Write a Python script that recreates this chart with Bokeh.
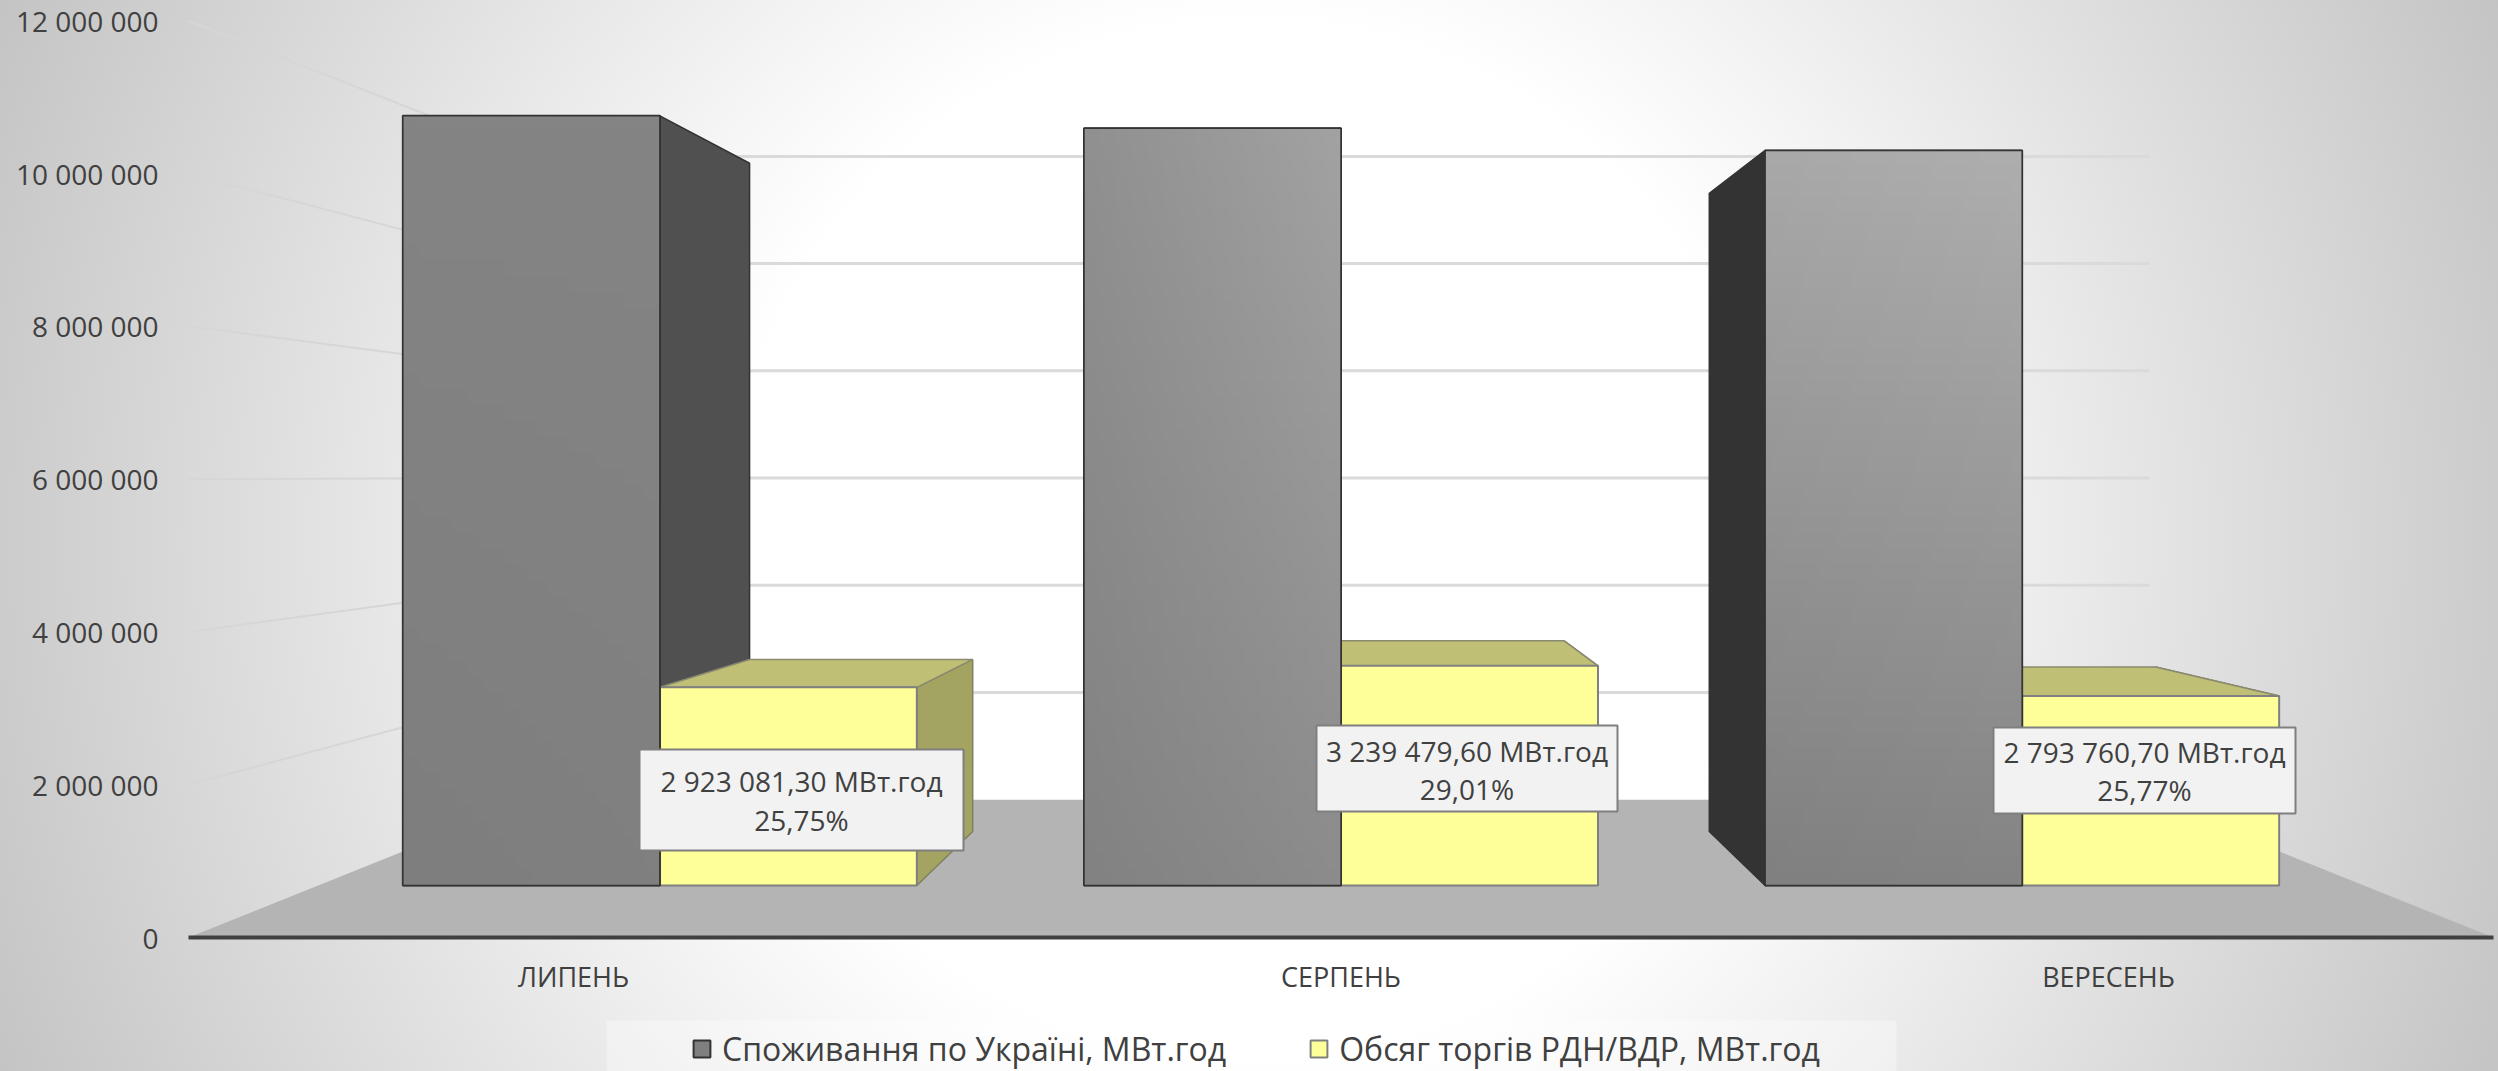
from bokeh.plotting import figure
from bokeh.layouts import column
from bokeh.models import (Range1d, FixedTicker, LinearAxis, Legend, LegendItem)
from bokeh.core.properties import value
from bokeh.embed import file_html
from bokeh.resources import INLINE
import numpy as np

# ---------- data ----------
categories = ["ЛИПЕНЬ", "СЕРПЕНЬ", "ВЕРЕСЕНЬ"]
consumption = [11351000, 11167000, 10841000]
traded = [2923081.30, 3239479.60, 2793760.70]
shares = ["25,75%", "29,01%", "25,77%"]
y_ticks = [0, 2000000, 4000000, 6000000, 8000000, 10000000, 12000000]
y_tick_labels = ["0", "2 000 000", "4 000 000", "6 000 000", "8 000 000", "10 000 000", "12 000 000"]
series_names = ["Споживання по Україні, МВт.год", "Обсяг торгів РДН/ВДР, МВт.год"]

# ---------- layout constants (pixels of the page) ----------
W, H = 2498, 1071
CHART_H = 1010
LEFT, RIGHT, BOTTOM = 188, 2493, 937
PX_PER_CAT = 767.5
PX_PER_VAL = 76.4 / 1e6
X0 = -(573 - LEFT) / PX_PER_CAT
X1 = X0 + (RIGHT - LEFT) / PX_PER_CAT
Y1 = BOTTOM / PX_PER_VAL

# perspective: depth factors, vanishing point in data units
VX, VY = 1.0, 6.047e6
S_BAR_FRONT, S_BAR_BACK, S_WALL = 0.8875, 0.7706, 0.7016
BAR_W = 0.3773


def proj(x, v, s):
    return VX + s * (x - VX), VY + s * (v - VY)


def sx(px):
    return X0 + (px - LEFT) / PX_PER_CAT


def sy(px):
    return (BOTTOM - px) / PX_PER_VAL


def face(corners):
    xs, ys = zip(*[proj(*c) for c in corners])
    return list(xs), list(ys)


p = figure(width=W, height=CHART_H, output_backend="svg", toolbar_location=None,
           x_range=Range1d(X0, X1), y_range=Range1d(0, Y1),
           min_border_left=LEFT, min_border_right=W - RIGHT, min_border_top=0,
           min_border_bottom=CHART_H - BOTTOM, x_axis_type=None, y_axis_type=None)
p.background_fill_alpha = 0
p.border_fill_alpha = 0
p.outline_line_color = None
p.grid.visible = False

FONT = "Open Sans"
TEXT = "#404040"

# axes
yax = LinearAxis(ticker=FixedTicker(ticks=y_ticks),
                 major_label_overrides=dict(zip(y_ticks, y_tick_labels)),
                 axis_line_color=None, major_tick_line_color=None, minor_tick_line_color=None,
                 major_label_text_font=FONT, major_label_text_font_size="28px",
                 major_label_text_color=TEXT, major_label_standoff=24)
p.add_layout(yax, "left")
xax = LinearAxis(ticker=FixedTicker(ticks=[0, 1, 2]),
                 major_label_overrides=dict(zip([0, 1, 2], categories)),
                 axis_line_color="#404040", axis_line_width=4,
                 major_tick_line_color=None, minor_tick_line_color=None,
                 major_label_text_font=FONT, major_label_text_font_size="27px",
                 major_label_text_color=TEXT, major_label_standoff=14)
p.add_layout(xax, "below")

# floor
fx, fy = face([(X0, 0, 1), (X1, 0, 1), (X1, 0, S_WALL), (X0, 0, S_WALL)])
p.patch(fx, fy, fill_color="#b4b4b4", line_color=None)

# walls' gridlines
wall_x0, wall_y0, wall_x1, wall_y1 = [], [], [], []
for t in y_ticks[1:]:
    a, b = proj(X0, t, 1)
    c, d = proj(X0, t, S_WALL)
    wall_x0.append(a); wall_y0.append(b); wall_x1.append(c); wall_y1.append(d)
p.segment(wall_x0, wall_y0, wall_x1, wall_y1, line_color="#d6d6d6", line_width=2)
back_x0, back_y0, back_x1, back_y1 = [], [], [], []
for t in y_ticks[1:]:
    a, b = proj(X0, t, S_WALL)
    c, d = proj(X1, t, S_WALL)
    back_x0.append(a); back_y0.append(b); back_x1.append(c); back_y1.append(d)
p.segment(back_x0, back_y0, back_x1, back_y1, line_color="#dadada", line_width=3)

# gray side faces
side_cols = ["#505050", None, "#333333"]
gsx, gsy, gsc = [], [], []
for i, v in enumerate(consumption):
    edge = i if i == 0 else i - BAR_W
    if i == 1:
        continue
    a, b = face([(edge, 0, S_BAR_FRONT), (edge, v, S_BAR_FRONT), (edge, v, S_BAR_BACK), (edge, 0, S_BAR_BACK)])
    gsx.append(a); gsy.append(b); gsc.append(side_cols[i])
p.patches(gsx, gsy, fill_color=gsc, line_color="#333333", line_width=1.5)

# yellow tops & side
tx, ty, sxs, sys_ = [], [], [], []
for i, v in enumerate(traded):
    l, r = i, i + BAR_W
    a, b = face([(l, v, S_BAR_FRONT), (r, v, S_BAR_FRONT), (r, v, S_BAR_BACK), (l, v, S_BAR_BACK)])
    tx.append(a); ty.append(b)
    a, b = face([(r, 0, S_BAR_FRONT), (r, v, S_BAR_FRONT), (r, v, S_BAR_BACK), (r, 0, S_BAR_BACK)])
    sxs.append(a); sys_.append(b)
p.patches(sxs, sys_, fill_color="#a3a362", line_color="#808060", line_width=1.5)
p.patches(tx, ty, fill_color="#bfc076", line_color="#8a8a70", line_width=1.5)


def front(i, v, d0, d1):
    x0, y0 = proj(i + d0, 0, S_BAR_FRONT)
    x1, y1 = proj(i + d1, v, S_BAR_FRONT)
    return x0, y0, x1, y1


# yellow fronts
yf = [front(i, v, 0, BAR_W) for i, v in enumerate(traded)]
p.quad(left=[f[0] for f in yf], bottom=[f[1] for f in yf], right=[f[2] for f in yf], top=[f[3] for f in yf],
       fill_color="#ffff99", line_color="#808080", line_width=2)

# gray fronts: flat face, then shading, then outline
gf = [front(i, v, -BAR_W, 0) for i, v in enumerate(consumption)]
p.quad(left=[f[0] for f in gf], bottom=[f[1] for f in gf], right=[f[2] for f in gf], top=[f[3] for f in gf],
       fill_color="#808080", line_color="#333333", line_width=2)

# shading: (bottom-left, bottom-right, top-left, top-right) grey levels
shades = [(0x7e, 0x80, 0x84, 0x84), (0x82, 0x8c, 0x90, 0xa2), (0x80, 0x84, 0xa8, 0xae)]
for f, (bl, br, tl, tr) in zip(gf, shades):
    n = 48
    u, w = np.meshgrid(np.linspace(0, 1, n), np.linspace(0, 1, n))
    g = (bl * (1 - u) * (1 - w) + br * u * (1 - w) + tl * (1 - u) * w + tr * u * w).astype(np.uint8)
    img = np.zeros((n, n), dtype=np.uint32)
    view = img.view(dtype=np.uint8).reshape((n, n, 4))
    view[:, :, 0] = g; view[:, :, 1] = g; view[:, :, 2] = g; view[:, :, 3] = 255
    p.image_rgba(image=[img], x=f[0], y=f[1], dw=f[2] - f[0], dh=f[3] - f[1])
p.quad(left=[f[0] for f in gf], bottom=[f[1] for f in gf], right=[f[2] for f in gf], top=[f[3] for f in gf],
       fill_color=None, line_color="#333333", line_width=1.5)

# data labels
boxes_px = [(639, 963, 749, 850), (1316, 1617, 725, 811), (1993, 2295, 727, 813)]
line_y_px = [(780, 819), (750, 788), (751, 789)]
p.quad(left=[sx(b[0]) for b in boxes_px], right=[sx(b[1]) for b in boxes_px],
       top=[sy(b[2]) for b in boxes_px], bottom=[sy(b[3]) for b in boxes_px],
       fill_color="#f2f2f2", line_color="#7f7f7f", line_width=2)


def fmt(v):
    return f"{v:,.2f}".replace(",", " ").replace(".", ",") + " МВт.год"


cx = [sx((b[0] + b[1]) / 2) for b in boxes_px]
p.text(cx, [sy(l[0]) for l in line_y_px], text=[fmt(v) for v in traded], text_font=value(FONT),
       text_font_size="28px", text_color=TEXT, text_align="center", text_baseline="middle")
p.text(cx, [sy(l[1]) for l in line_y_px], text=shares, text_font=value(FONT),
       text_font_size="28px", text_color=TEXT, text_align="center", text_baseline="middle")

# legend strip: own figure below the chart; its frame lines up with the chart's, range in page pixels
LH = H - CHART_H
lf = figure(width=W, height=LH, output_backend="svg", toolbar_location=None,
            x_range=Range1d(LEFT, RIGHT), y_range=Range1d(H, CHART_H),
            min_border_left=LEFT, min_border_right=W - RIGHT, min_border_top=0, min_border_bottom=0,
            x_axis_type=None, y_axis_type=None)
lf.background_fill_alpha = 0
lf.border_fill_alpha = 0
lf.outline_line_color = None
lf.grid.visible = False
lf.quad(left=[606], right=[1896], top=[1020], bottom=[1071], fill_color="#ffffff", fill_alpha=0.35, line_color=None)
gs = lf.quad(left=[np.nan], right=[np.nan], top=[np.nan], bottom=[np.nan], fill_color="#7f7f7f", line_color="#333333", line_width=2)
ys = lf.quad(left=[np.nan], right=[np.nan], top=[np.nan], bottom=[np.nan], fill_color="#ffff99", line_color="#808080", line_width=2)
leg = Legend(items=[LegendItem(label=series_names[0], renderers=[gs]),
                    LegendItem(label=series_names[1], renderers=[ys])],
             orientation="horizontal", location=(691 - LEFT, 1),
             background_fill_alpha=0, border_line_alpha=0, margin=0, padding=0,
             glyph_width=21, glyph_height=21, label_standoff=10, spacing=82,
             label_text_font=FONT, label_text_font_size="32px", label_text_color=TEXT)
lf.add_layout(leg)

page = column(p, lf, spacing=0, styles={
    "background": "radial-gradient(circle 1360px at 1250px 540px, #ffffff 0%, #ffffff 38%, #f6f6f6 48%, #c4c4c4 100%)",
})

open("out.html", "w").write(file_html(page, INLINE))
